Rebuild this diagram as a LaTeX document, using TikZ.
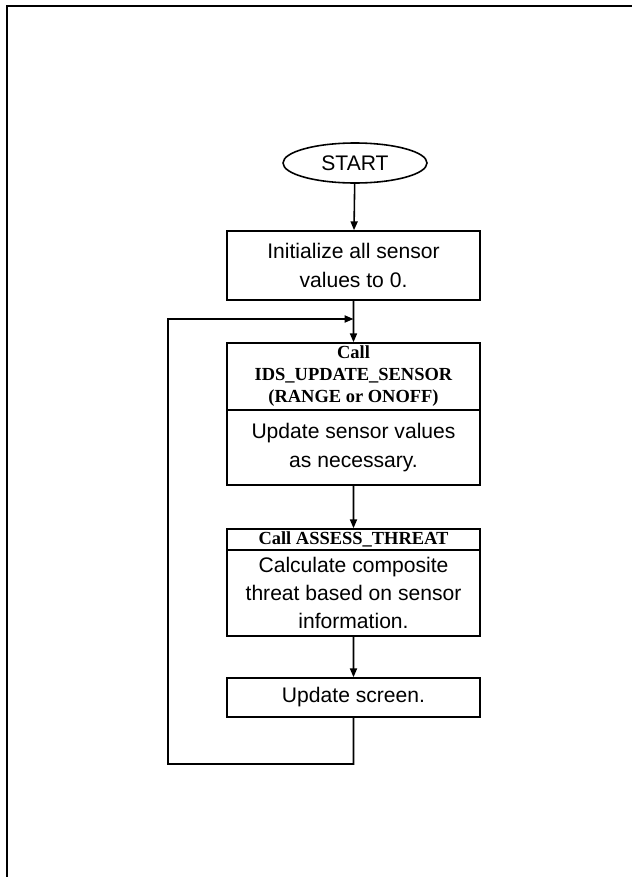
\documentclass[tikz,border=0pt]{standalone}
\usepackage{fontspec}
\setmainfont{Liberation Sans}
\newfontfamily\callfont{Liberation Serif}
\usepackage{tikz}
\usetikzlibrary{arrows.meta,shapes.geometric}
\begin{document}
\begin{tikzpicture}[scale=0.2]
\tikzstyle{every node}+=[inner sep=0pt]
\tikzstyle{stepbox}=[draw=black, line width=0.9pt, rectangle, minimum width=5.06cm, align=center, font=\fontsize{12}{16}\selectfont]
\tikzstyle{callbox}=[stepbox, font=\fontsize{10.5}{12.5}\selectfont\callfont\bfseries]
\tikzstyle{arr}=[line width=0.9pt, -{Triangle[length=5pt,width=4pt]}]
\useasboundingbox (0,0) rectangle (63.2,-87.7);
\draw [line width=0.9pt] (63.2,-0.6) -- (0.7,-0.6) -- (0.7,-87.7);
\node [draw=black, line width=0.9pt, ellipse, minimum width=2.88cm, minimum height=0.8cm, font=\fontsize{12}{14}\selectfont] (start) at (35.5,-16.3) {START};
\node [stepbox, minimum height=1.38cm] (init) at (35.35,-26.55) {Initialize all sensor\\values to 0.};
\node [callbox, minimum height=1.34cm] (idscall) at (35.35,-37.65) {Call\\IDS\_UPDATE\_SENSOR\\(RANGE or ONOFF)};
\node [stepbox, minimum height=1.5cm] (idsupd) at (35.35,-44.75) {Update sensor values\\as necessary.};
\node [callbox, minimum height=0.42cm] (asscall) at (35.35,-53.95) {Call ASSESS\_THREAT};
\node [stepbox, minimum height=1.72cm] (asscalc) at (35.35,-59.3) {Calculate composite\\threat based on sensor\\information.};
\node [stepbox, minimum height=0.78cm] (screen) at (35.35,-69.75) {Update screen.};
\coordinate (join) at (35.35,-31.9);
\coordinate (loopa) at (35.35,-76.4);
\coordinate (loopb) at (16.8,-76.4);
\coordinate (loopc) at (16.8,-31.9);
\draw [arr] (start) -- (init);
\draw [line width=0.9pt] (init) -- (join);
\draw [arr] (join) -- (idscall);
\draw [arr] (idsupd) -- (asscall);
\draw [arr] (asscalc) -- (screen);
\draw [arr] (screen) -- (loopa) -- (loopb) -- (loopc) -- (join);
\end{tikzpicture}
\end{document}
